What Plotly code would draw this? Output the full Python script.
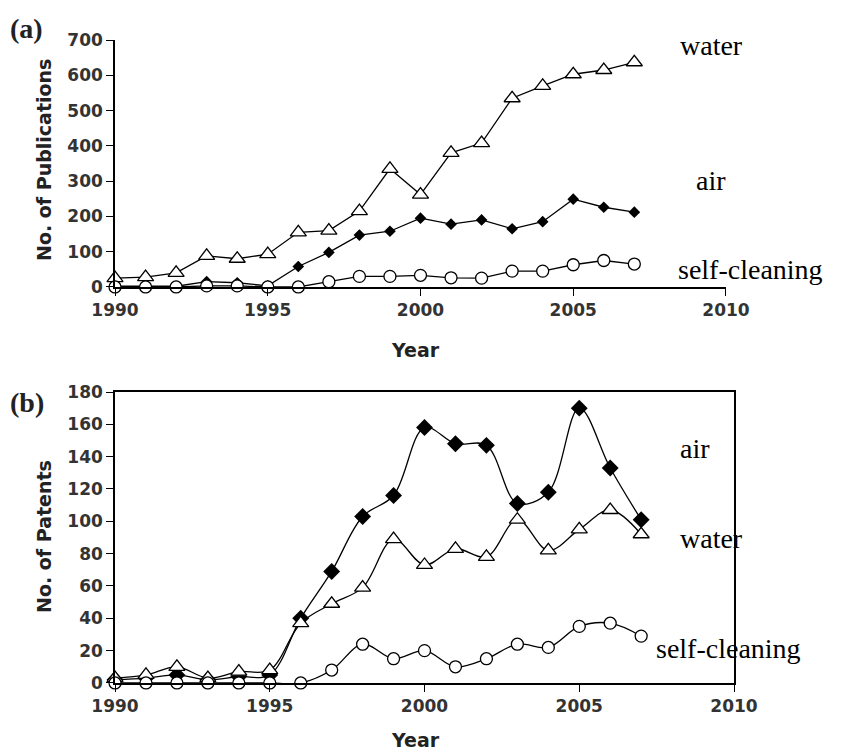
import plotly.graph_objects as go

# years shared by both panels
years = list(range(1990, 2008))

# (a) number of publications
pub_water = [25, 28, 40, 88, 80, 93, 155, 160, 215, 335, 262, 380, 408, 535, 570, 603, 615, 637]
pub_air = [2, 2, 2, 15, 12, 3, 58, 98, 147, 158, 195, 178, 190, 165, 185, 249, 226, 212]
pub_self = [0, 0, 0, 3, 3, 0, 0, 15, 30, 30, 33, 26, 25, 45, 45, 63, 75, 65]

# (b) number of patents
pat_air = [2, 3, 5, 2, 4, 5, 40, 69, 103, 116, 158, 148, 147, 111, 118, 170, 133, 101]
pat_water = [3, 5, 10, 3, 7, 8, 37, 49, 59, 89, 73, 83, 78, 101, 82, 95, 107, 92]
pat_self = [0, 0, 0, 0, 0, 0, 0, 8, 24, 15, 20, 10, 15, 24, 22, 35, 37, 29]

pub_ticks = [0, 100, 200, 300, 400, 500, 600, 700]
pat_ticks = [0, 20, 40, 60, 80, 100, 120, 140, 160, 180]
year_ticks = [1990, 1995, 2000, 2005, 2010]

fig = go.Figure()

open_tri = dict(symbol="triangle-up", color="white", size=14, line=dict(color="black", width=1.3))
open_circ = dict(symbol="circle", color="white", size=12, line=dict(color="black", width=1.3))

# panel (a)
fig.add_trace(go.Scatter(x=years, y=pub_water, mode="lines+markers", line=dict(color="black", width=1.3),
                         marker=open_tri, cliponaxis=False, xaxis="x", yaxis="y"))
fig.add_trace(go.Scatter(x=years, y=pub_air, mode="lines+markers", line=dict(color="black", width=1.3),
                         marker=dict(symbol="diamond", color="black", size=9), cliponaxis=False, xaxis="x", yaxis="y"))
fig.add_trace(go.Scatter(x=years, y=pub_self, mode="lines+markers", line=dict(color="black", width=1.3),
                         marker=open_circ, cliponaxis=False, xaxis="x", yaxis="y"))

# panel (b)
fig.add_trace(go.Scatter(x=years, y=pat_air, mode="lines+markers", line=dict(color="black", width=1.3, shape="spline"),
                         marker=dict(symbol="diamond", color="black", size=13), cliponaxis=False, xaxis="x2", yaxis="y2"))
fig.add_trace(go.Scatter(x=years, y=pat_water, mode="lines+markers", line=dict(color="black", width=1.3, shape="spline"),
                         marker=open_tri, cliponaxis=False, xaxis="x2", yaxis="y2"))
fig.add_trace(go.Scatter(x=years, y=pat_self, mode="lines+markers", line=dict(color="black", width=1.3, shape="spline"),
                         marker=open_circ, cliponaxis=False, xaxis="x2", yaxis="y2"))

tickfont = dict(family="DejaVu Sans", size=17, color="#333333", weight="bold")
axis_common = dict(showline=True, linecolor="black", linewidth=1.5, ticks="outside", ticklen=7,
                   tickcolor="black", showgrid=False, zeroline=False, tickfont=tickfont, automargin=False)

fig.update_layout(
    width=847, height=754,
    margin=dict(l=0, r=0, t=0, b=0, autoexpand=False),
    paper_bgcolor="white", plot_bgcolor="white",
    showlegend=False,
    font=dict(family="DejaVu Sans", color="#222222"),
    xaxis=dict(domain=[0.1358, 0.8571], range=[1990, 2010], tickvals=year_ticks, anchor="y", **axis_common),
    yaxis=dict(domain=[0.6194, 0.9469], range=[0, 700], tickvals=pub_ticks, anchor="x", **axis_common),
    xaxis2=dict(domain=[0.1358, 0.8666], range=[1990, 2010], tickvals=year_ticks, anchor="y2", mirror=True, **axis_common),
    yaxis2=dict(domain=[0.0942, 0.4801], range=[0, 180], tickvals=pat_ticks, anchor="x2", mirror=True, **axis_common),
)

serif = dict(family="Liberation Serif", size=28, color="black")
bold_sans = dict(family="DejaVu Sans", size=19, color="#222222")
labels = [
    ("water", 678, 45, serif), ("air", 694, 180, serif), ("self-cleaning", 676, 270, serif),
    ("air", 678, 449, serif), ("water", 678, 538, serif), ("self-cleaning", 654, 648, serif),
]
for text, px, py, f in labels:
    fig.add_annotation(text=text, x=px / 847, y=1 - py / 754, xref="paper", yref="paper",
                       xanchor="left", yanchor="middle", showarrow=False, font=f)

for text, py in [("(a)", 28), ("(b)", 402)]:
    fig.add_annotation(text="<b>" + text + "</b>", x=8 / 847, y=1 - py / 754, xref="paper", yref="paper",
                       xanchor="left", yanchor="middle", showarrow=False,
                       font=dict(family="Liberation Serif", size=28, color="#222222"))

for text, py in [("No. of Publications", 160), ("No. of Patents", 537)]:
    fig.add_annotation(text="<b>" + text + "</b>", x=44 / 847, y=1 - py / 754, xref="paper", yref="paper",
                       xanchor="center", yanchor="middle", textangle=-90, showarrow=False, font=bold_sans)

for py in [350, 740]:
    fig.add_annotation(text="<b>Year</b>", x=415 / 847, y=1 - py / 754, xref="paper", yref="paper",
                       xanchor="center", yanchor="middle", showarrow=False, font=bold_sans)

# drop the browser's default page margin so the figure sits at the window corner
fig.write_html("out.html", config={"displayModeBar": False},
               post_script="document.body.style.margin='0px';")
